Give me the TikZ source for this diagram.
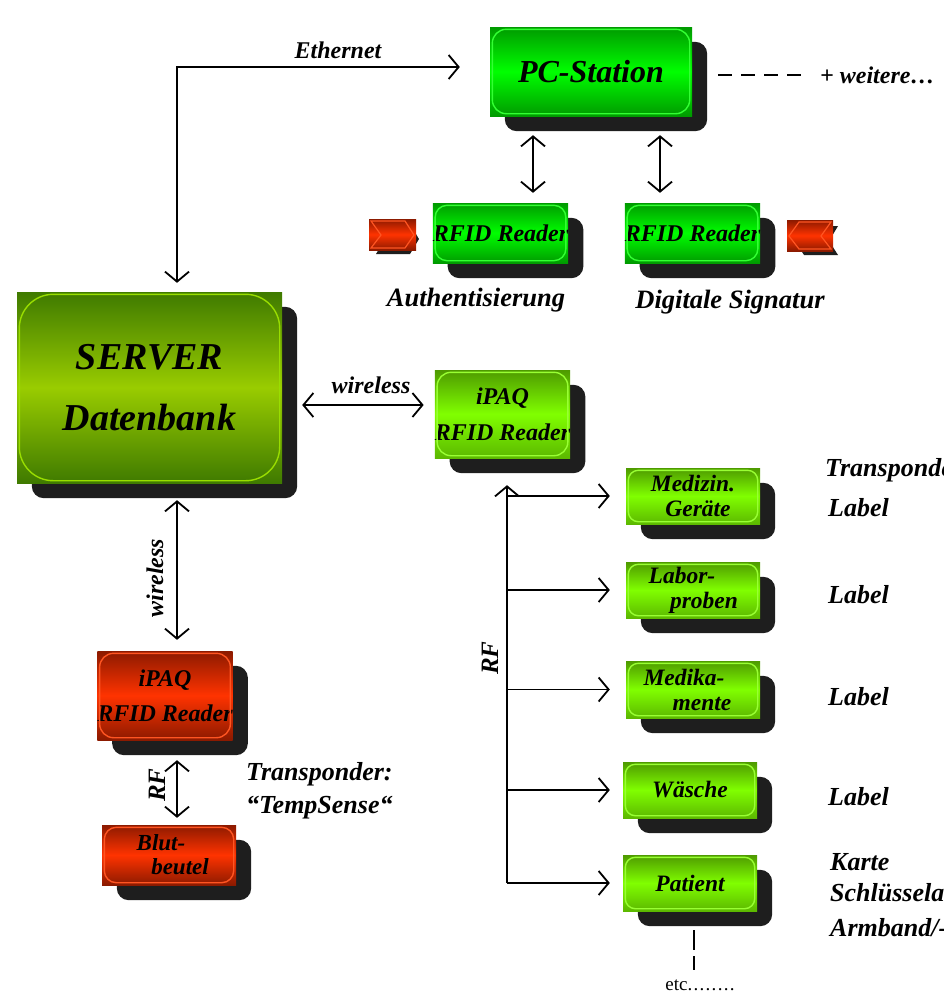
\documentclass[tikz,border=0pt]{standalone}
\usepackage{fontspec}
\setmainfont{Liberation Serif}
\usetikzlibrary{arrows.meta,calc}
\pgfdeclarelayer{bg}
\pgfsetlayers{bg,main}
\definecolor{shd}{HTML}{1E1E1E}
\definecolor{pcA}{HTML}{009A00}
\definecolor{pcB}{HTML}{00FF00}
\definecolor{pcR}{HTML}{33FF33}
\definecolor{lmA}{HTML}{4E9A00}
\definecolor{lmB}{HTML}{80FF00}
\definecolor{lmC}{HTML}{5CB800}
\definecolor{lmR}{HTML}{99FF33}
\definecolor{svA}{HTML}{3F7A00}
\definecolor{svB}{HTML}{99CC00}
\definecolor{svR}{HTML}{99DD00}
\definecolor{rdA}{HTML}{8C1A00}
\definecolor{rdB}{HTML}{FF3300}
\definecolor{rdR}{HTML}{FF5522}
\tikzset{
  >={Straight Barb[length=10pt,width=24pt]},
  conn/.style={line width=1.8pt},
  box/.style={rectangle, inner sep=0pt, align=center},
  pcg/.style={box, top color=pcA, bottom color=pcA, middle color=pcB},
  lime/.style={box, top color=lmA, bottom color=lmC, middle color=lmB},
  srv/.style={box, top color=svA, bottom color=svA, middle color=svB},
  red/.style={box, top color=rdA, bottom color=rdA, middle color=rdB},
  bi/.style={inner sep=0pt, font={\fontsize{#1}{#1}\selectfont\bfseries\itshape}},
  bi/.default=22,
}
% name, x1, y1, x2, y2, style, rim colour, radius, text
\newcommand\shadebox[9]{%
  \node[#6, minimum width={(#4-#2)*1pt}, minimum height={(#5-#3)*1pt}] (#1) at ({(#2+#4)/2},{(#3+#5)/2}) {#9};
  \begin{pgfonlayer}{bg}
    \fill[shd, rounded corners=12pt] ($(#1.south west)+(15,15)$) rectangle ($(#1.north east)+(15,15)$);
  \end{pgfonlayer}
  \draw[#7, line width=1.4pt, rounded corners=#8] ($(#1.south west)+(2.5,-2.5)$) rectangle ($(#1.north east)+(-2.5,2.5)$);
}
\begin{document}
\begin{tikzpicture}[x=1pt,y=-1pt]
\useasboundingbox (0,0) rectangle (944,997);

% boxes
\shadebox{pc}{490}{27}{692}{116}{pcg,font={\fontsize{32}{34}\selectfont\bfseries\itshape}}{pcR}{14pt}{PC-Station}
\shadebox{rfa}{433}{203}{568}{263}{pcg,font={\fontsize{24}{28}\selectfont\bfseries\itshape}}{pcR}{12pt}{RFID Reader}
\shadebox{rfb}{625}{203}{760}{263}{pcg,font={\fontsize{24}{28}\selectfont\bfseries\itshape}}{pcR}{12pt}{RFID Reader}
\shadebox{server}{17}{292}{282}{483}{srv,font={\fontsize{38}{61}\selectfont\bfseries\itshape}}{svR}{34pt}{SERVER\\Datenbank}
\shadebox{ipaq}{436}{370}{569}{458}{lime,font={\fontsize{24}{36}\selectfont\bfseries\itshape}}{lmR}{14pt}{iPAQ\\RFID Reader}
\shadebox{med}{626}{468}{760}{524}{lime,font={\fontsize{23.5}{25}\selectfont\bfseries\itshape}}{lmR}{10pt}{Medizin.\\\hspace*{10pt}Geräte}
\shadebox{lab}{626}{562}{760}{618}{lime,font={\fontsize{23.5}{25}\selectfont\bfseries\itshape}}{lmR}{10pt}{Labor-\hspace*{22pt}\\\hspace*{22pt}proben}
\shadebox{mdk}{626}{661}{760}{718}{lime,font={\fontsize{23.5}{25}\selectfont\bfseries\itshape}}{lmR}{10pt}{Medika-\hspace*{18pt}\\\hspace*{18pt}mente}
\shadebox{wae}{623}{762}{757}{818}{lime,font={\fontsize{23.5}{25}\selectfont\bfseries\itshape}}{lmR}{10pt}{Wäsche}
\shadebox{pat}{623}{855}{757}{911}{lime,font={\fontsize{23.5}{25}\selectfont\bfseries\itshape}}{lmR}{10pt}{Patient}
\shadebox{ipr}{98}{651}{232}{740}{red,font={\fontsize{24}{35}\selectfont\bfseries\itshape}}{rdR}{14pt}{iPAQ\\RFID Reader}
\shadebox{blut}{102}{825}{236}{885}{red,font={\fontsize{23}{24}\selectfont\bfseries\itshape}}{rdR}{12pt}{Blut-\hspace*{16pt}\\\hspace*{22pt}beutel}

% red tags
\fill[shd] (376,224) -- (410,224) -- (419,239) -- (410,254) -- (376,254) -- (385,239) -- cycle;
\shade[top color=rdA, bottom color=rdA, middle color=rdB] (369,219) rectangle (416,250);
\draw[rdR, line width=1.2pt] (371,221) -- (405,221) -- (414,235) -- (405,248) -- (371,248) -- (381,235) -- cycle;
\fill[shd] (804,226) -- (838,226) -- (829,241) -- (838,255) -- (804,255) -- (795,241) -- cycle;
\shade[top color=rdA, bottom color=rdA, middle color=rdB] (787,220) rectangle (833,251);
\draw[rdR, line width=1.2pt] (799,222) -- (831,222) -- (821,236) -- (831,249) -- (799,249) -- (789,236) -- cycle;

% coordinates for connector lines
\coordinate (ethc) at (177,67);
\coordinate (xa) at (533,0);
\coordinate (xb) at (660,0);
\coordinate (wl) at (0,405);
\coordinate (xl) at (177,0);
\coordinate (xr) at (507,0);
\coordinate (xd) at (694,0);

% text nodes
\node[bi=24] (eth) at (338,50) {Ethernet};
\node[bi=24, anchor=west] (weit) at (820,75) {+ weitere…};
\node[bi=26.5] (auth) at (476,300) {Authentisierung};
\node[bi=26.5] (dsig) at (730,302) {Digitale Signatur};
\node[bi=24] (wlh) at (371,385) {wireless};
\node[bi=24, rotate=90] (wlv) at (155,578) {wireless};
\node[bi=25, rotate=90] (rfr) at (490,658) {RF};
\node[bi=25, rotate=90] (rfl) at (157,785) {RF};
\node[bi=26, anchor=west, align=left, font={\fontsize{26}{33}\selectfont\bfseries\itshape}] (temp) at (246,791) {Transponder:\\“TempSense“};
\node[bi=26, anchor=west] (trl) at (825,470) {Transponder:};
\node[bi=26, anchor=west] (l1) at (828,508) {Label};
\node[bi=26, anchor=west] (l2) at (828,595) {Label};
\node[bi=26, anchor=west] (l3) at (828,697) {Label};
\node[bi=26, anchor=west] (l4) at (828,797) {Label};
\node[bi=26, anchor=west] (k1) at (830,862) {Karte};
\node[bi=26, anchor=west] (k2) at (830,895) {Schlüsselanhänger};
\node[bi=26, anchor=west] (k3) at (830,928) {Armband/-uhr};
\node[inner sep=0pt, font={\fontsize{19}{20}\selectfont}] (etc) at (700,985) {etc.\kern1.3pt.\kern1.3pt.\kern1.3pt.\kern1.3pt.\kern1.3pt.\kern1.3pt.\kern1.3pt.};

% connectors
\draw[conn,<->, shorten <=9pt, shorten >=30pt] (server.north -| ethc) |- (pc.west |- ethc);
\draw[conn,<->, shorten <=19pt, shorten >=10pt] (pc.south -| xa) -- (rfa.north -| xa);
\draw[conn,<->, shorten <=19pt, shorten >=10pt] (pc.south -| xb) -- (rfb.north -| xb);
\draw[conn,<->, shorten <=20pt, shorten >=11pt] (server.east |- wl) -- (ipaq.west |- wl);
\draw[conn,<->, shorten <=17pt, shorten >=11pt] (server.south -| xl) -- (ipr.north -| xl);
\draw[conn,<->, shorten <=20pt, shorten >=7pt] (ipr.south -| xl) -- (blut.north -| xl);
\draw[conn,->, shorten >=27pt] (pat.west -| xr) -- (ipaq.south -| xr);
\draw[conn,->, shorten >=16pt] (med.west -| xr) -- (med.west);
\draw[conn,->, shorten >=16pt] (lab.west -| xr) -- (lab.west);
\draw[conn,->, shorten >=16pt] (mdk.west -| xr) -- (mdk.west);
\draw[conn,->, shorten >=13pt] (wae.west -| xr) -- (wae.west);
\draw[conn,->, shorten >=13pt] (pat.west -| xr) -- (pat.west);
\draw[conn, dash pattern=on 14pt off 9pt, shorten <=26pt, shorten >=15pt] (pc.east |- weit) -- (weit.west);
\draw[conn, dash pattern=on 20pt off 6pt, shorten <=19pt, shorten >=9pt] (pat.south -| xd) -- (etc.north -| xd);
\end{tikzpicture}
\end{document}
